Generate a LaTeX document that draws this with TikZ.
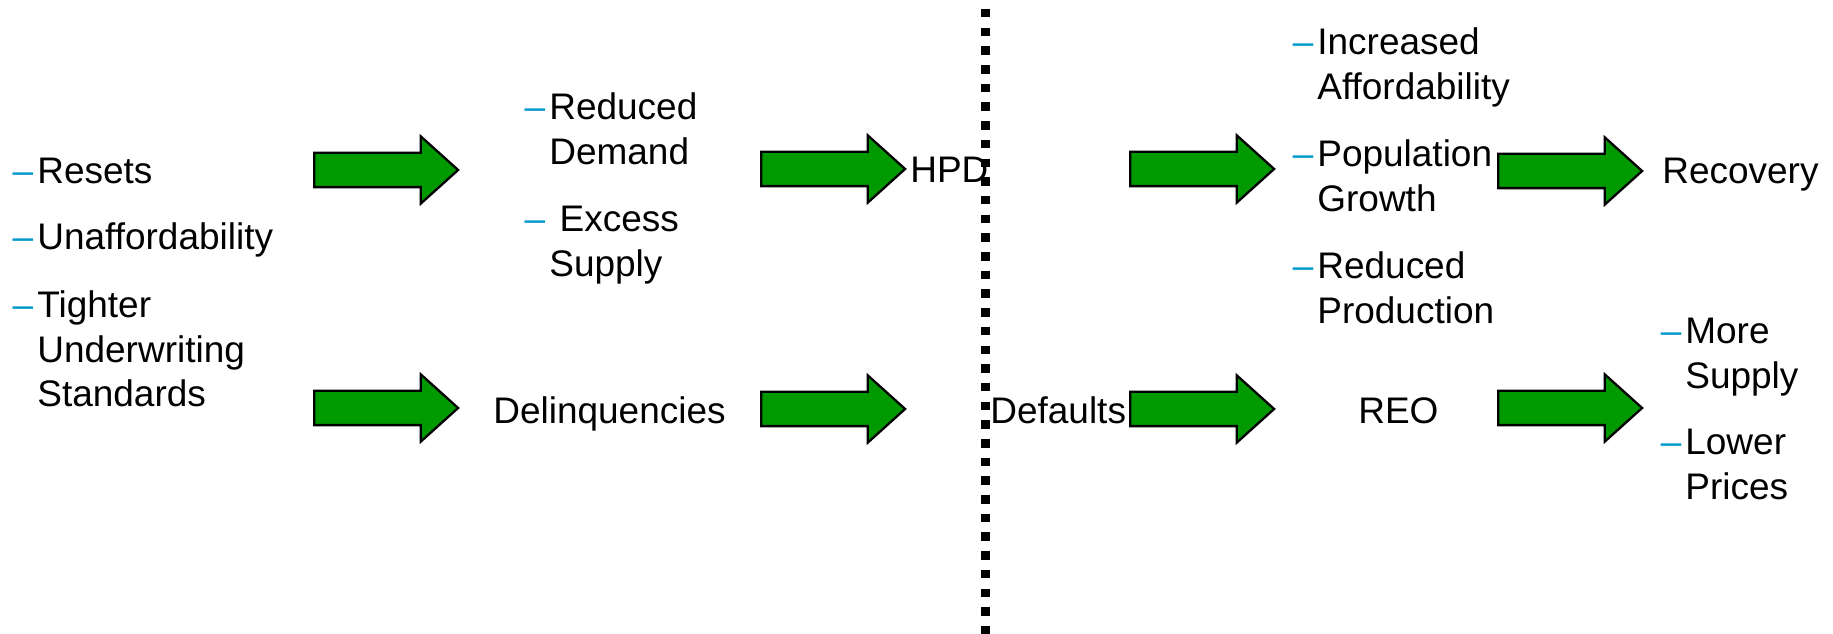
\documentclass[tikz,border=0pt]{standalone}
\usepackage{fontspec}
\setmainfont{Liberation Sans}
\usepackage{xcolor}
\usepackage{tikz}
\usetikzlibrary{shapes.arrows}
\definecolor{arrowgreen}{RGB}{0,153,0}
\definecolor{dashblue}{RGB}{0,153,204}
% blue hanging dash in front of a list entry
\newcommand{\dashmark}{\llap{\textcolor{dashblue}{–}\hspace{2.3pt}}}
% several lines, baseline on the first one
\newcommand{\itemlines}[1]{\begin{tabular}[t]{@{}l@{}}#1\end{tabular}}

\begin{document}
\begin{tikzpicture}[
    x=0.02cm, y=-0.02cm,
    txt/.style={anchor=base west, inner sep=0pt, font=\fontsize{21.05pt}{25.3pt}\selectfont},
    blockarrow/.style={single arrow, anchor=tail, draw=black, line width=1.3pt, fill=arrowgreen, minimum height=2.88cm, inner xsep=0pt, inner ysep=0.32cm, single arrow head extend=0.33cm, single arrow tip angle=84},
    divider/.style={line width=0.18cm, dash pattern=on 0.17cm off 0.204cm}
]
    \useasboundingbox (0,0) rectangle (1833,634);
    % causes
    \node [txt] (resets) at (37,184) {\dashmark Resets};
    \node [txt] (unafford) at (37,250) {\dashmark Unaffordability};
    \node [txt] (tighter) at (37,318) {\dashmark\itemlines{Tighter\\Underwriting\\Standards}};
    % first effects
    \node [txt] (demand) at (549,120) {\dashmark\itemlines{Reduced\\Demand}};
    \node [txt] (excess) at (549,232) {\dashmark\itemlines{\ Excess\\Supply}};
    \node [txt] (delinq) at (493,424) {Delinquencies};
    \node [txt] (hpd) at (910,183) {HPD};
    % after the turn
    \node [txt] (defaults) at (990,424) {Defaults};
    \node [txt] (reo) at (1358,424) {REO};
    \node [txt] (incaff) at (1317,55) {\dashmark\itemlines{Increased\\Affordability}};
    \node [txt] (popgrowth) at (1317,167) {\dashmark\itemlines{Population\\Growth}};
    \node [txt] (redprod) at (1317,279) {\dashmark\itemlines{Reduced\\Production}};
    \node [txt] (recovery) at (1662,184) {Recovery};
    \node [txt] (moresupply) at (1685,344) {\dashmark\itemlines{More\\Supply}};
    \node [txt] (lowprices) at (1685,455) {\dashmark\itemlines{Lower\\Prices}};
    % green block arrows, placed by their tails
    \node [blockarrow] (arrA) at (313,170) {};
    \node [blockarrow] (arrB) at (313,408) {};
    \node [blockarrow] (arrC) at (760,169) {};
    \node [blockarrow] (arrD) at (760,409) {};
    \node [blockarrow] (arrE) at (1129,169) {};
    \node [blockarrow] (arrF) at (1129,409) {};
    \node [blockarrow] (arrG) at (1497,171) {};
    \node [blockarrow] (arrH) at (1497,408) {};
    % dotted divider
    \coordinate (divtop) at (985.5,9);
    \coordinate (divbot) at (985.5,634);
    \draw [divider] (divtop) -- (divbot);
\end{tikzpicture}
\end{document}
